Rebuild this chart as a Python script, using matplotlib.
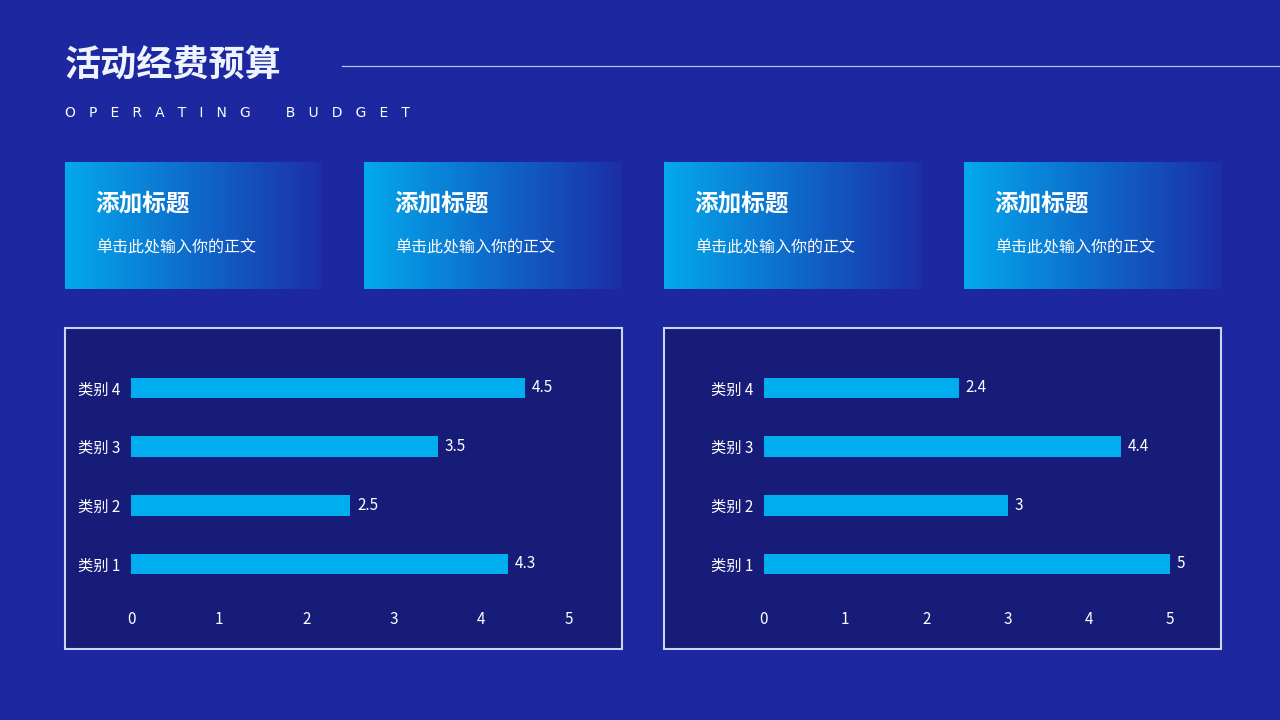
import matplotlib
matplotlib.use("Agg")
import matplotlib.pyplot as plt
from matplotlib.patches import Rectangle
from matplotlib.colors import LinearSegmentedColormap
import numpy as np

plt.rcParams['font.family'] = ['Noto Sans CJK SC', 'DejaVu Sans']

categories = ["类别 1", "类别 2", "类别 3", "类别 4"]
left_values = [4.3, 2.5, 3.5, 4.5]
right_values = [5, 3, 4.4, 2.4]
xticks = [0, 1, 2, 3, 4, 5]
card_titles = ["添加标题"] * 4
card_texts = ["单击此处输入你的正文"] * 4

W, H = 1280, 720
BG = "#1C27A0"
fig = plt.figure(figsize=(12.8, 7.2), dpi=100, facecolor=BG)

def fx(x): return x / W
def fy(y): return 1 - y / H

fig.text(fx(65), fy(66), "活动经费预算", color="#EEF4FF", fontsize=26, fontweight="heavy",
         fontstyle="italic", va="center", ha="left")
fig.add_artist(plt.Line2D([fx(342), 1], [fy(66), fy(66)], color="#B8C4F0", lw=0.9))
fig.text(fx(65), fy(113), "   ".join("OPERATING") + "        " + "   ".join("BUDGET"),
         color="white", fontsize=10, va="center", ha="left", family="DejaVu Sans")

grad = np.linspace(0, 1, 256).reshape(1, -1)
cmap = LinearSegmentedColormap.from_list("g", ["#03A9EC", "#0E6ACB", "#1C2FA6"])
for i, x0 in enumerate([65, 364, 664, 964]):
    ax = fig.add_axes([fx(x0), fy(289), 257 / W, 127 / H])
    ax.imshow(grad, aspect="auto", cmap=cmap, extent=[0, 1, 0, 1])
    ax.set_axis_off()
    ax.text(0.12, 0.67, card_titles[i], color="white", fontsize=17, fontweight="heavy",
            fontstyle="italic", transform=ax.transAxes, va="center")
    ax.text(0.12, 0.32, card_texts[i], color="white", fontsize=11.5,
            transform=ax.transAxes, va="center")

for x0 in [65, 664]:
    fig.add_artist(Rectangle((fx(x0), fy(649)), 557 / W, 321 / H, transform=fig.transFigure,
                             facecolor="#161C78", edgecolor="#C8D6F2", lw=1.5, zorder=-5))

def bar_panel(x0px, x5px, vals):
    bottom, top = 600, 355
    ax = fig.add_axes([fx(x0px), fy(bottom), (x5px - x0px) / W, (bottom - top) / H])
    ax.set_zorder(2)
    ax.set_facecolor("none")
    y = np.arange(len(categories))
    ax.barh(y, vals, height=0.35, color="#00ADEF")
    for yi, v in zip(y, vals):
        ax.text(v + 0.08, yi, f"{v:g}", color="white", fontsize=11, va="center")
    ax.set_xlim(0, 5)
    ax.set_ylim(-0.614, 3.5625)
    ax.set_xticks(xticks)
    ax.set_yticks(y)
    ax.set_yticklabels(categories)
    ax.tick_params(colors="white", labelsize=11, length=0, pad=8)
    for s in ax.spines.values():
        s.set_visible(False)

bar_panel(131, 569, left_values)
bar_panel(764, 1170, right_values)

fig.savefig("out.png", dpi=100, facecolor=BG)
